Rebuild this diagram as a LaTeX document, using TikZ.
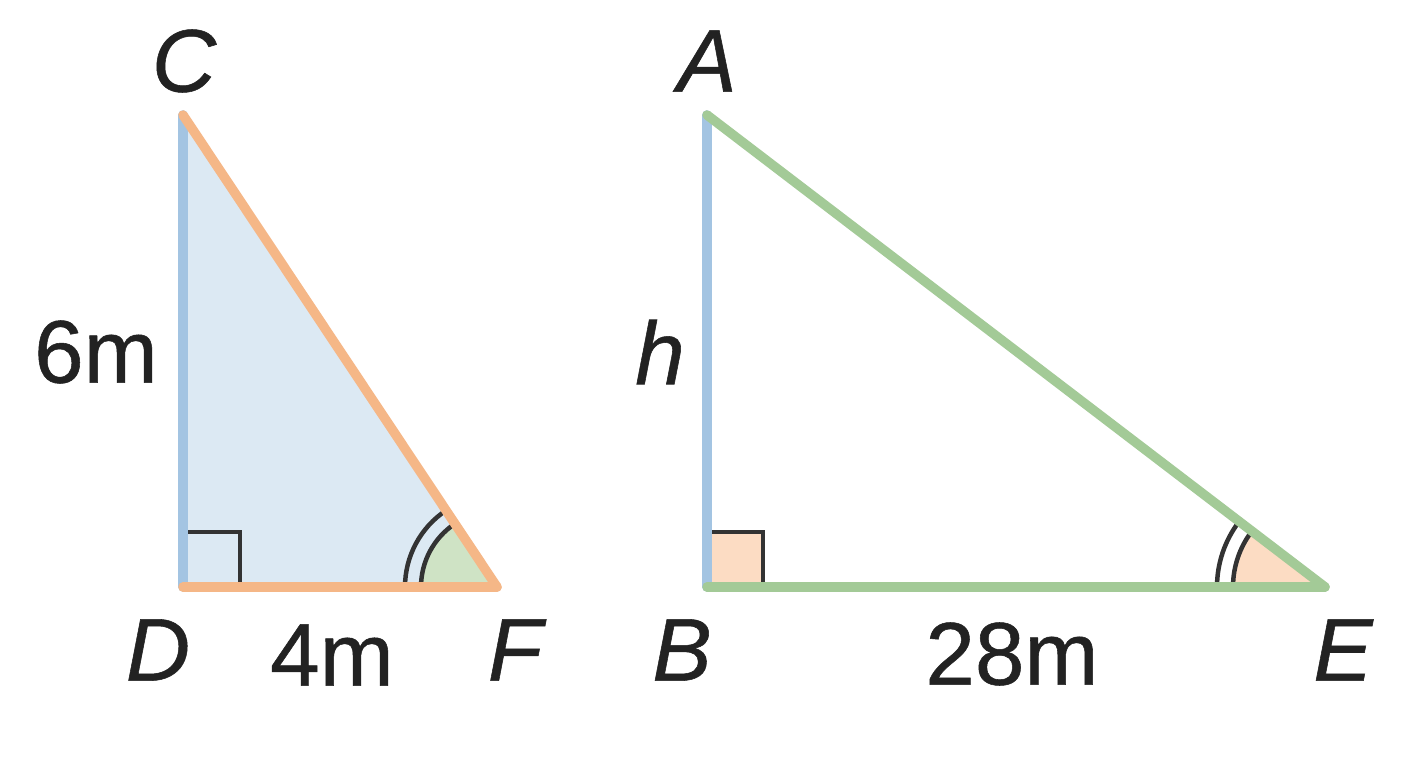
\documentclass[tikz,border=0pt]{standalone}
\usepackage{fontspec}
\setmainfont{Liberation Sans}[FakeBold=0.6]
\usetikzlibrary{calc}
\definecolor{lblue}{HTML}{A3C4E2}
\definecolor{fblue}{HTML}{DCE9F3}
\definecolor{lorange}{HTML}{F5B787}
\definecolor{lgreen}{HTML}{A3CA97}
\definecolor{fgreen}{HTML}{CFE3C5}
\definecolor{fpeach}{HTML}{FCDCC3}
\definecolor{dark}{HTML}{333333}
\definecolor{ink}{HTML}{222222}
\tikzset{
  side/.style={line width=9.5pt, line cap=round},
  anglemark/.style={draw=dark, line width=4.5pt},
  lab/.style={font=\fontsize{89}{91}\selectfont, text=ink},
}
\begin{document}
\begin{tikzpicture}[x=1pt,y=1pt]
\useasboundingbox (0,0) rectangle (1408,768);
\fill[white] (0,0) rectangle (1408,768);
% vertices
\coordinate (D) at (183,181);
\coordinate (C) at (183,653);
\coordinate (F) at (497,181);
\coordinate (B) at (707,181);
\coordinate (A) at (707,653);
\coordinate (E) at (1325,181);
% left triangle fill
\fill[fblue] (D) -- (C) -- (F) -- cycle;
% angle at F
\fill[fgreen] (F) -- ++(180:76) arc[start angle=180, end angle=123.6, radius=76] -- cycle;
\draw[anglemark] ($(F)+(180:76)$) arc[start angle=180, end angle=123.6, radius=76];
\draw[anglemark] ($(F)+(180:92)$) arc[start angle=180, end angle=123.6, radius=92];
% right angle at D
\draw[anglemark] (187,236) -- (240,236) -- (240,181);
% right triangle marks
\fill[fpeach] (E) -- ++(180:92) arc[start angle=180, end angle=142.6, radius=92] -- cycle;
\draw[anglemark] ($(E)+(180:92)$) arc[start angle=180, end angle=142.6, radius=92];
\draw[anglemark] ($(E)+(180:108)$) arc[start angle=180, end angle=142.6, radius=108];
\fill[fpeach] (711,181) rectangle (763,236);
\draw[anglemark] (711,236) -- (763,236) -- (763,181);
% sides
\draw[side, lblue] (D) -- (C);
\draw[side, lorange] (D) -- (F);
\draw[side, lorange] (C) -- (F);
\draw[side, lblue] (B) -- (A);
\draw[side, lgreen] (B) -- (E);
\draw[side, lgreen] (A) -- (E);
% labels
\node[lab] (lC) at (184,707) {\itshape C};
\node[lab] (lA) at (707,707) {\itshape A};
\node[lab] (l6) at (96,416) {6m};
\node[lab] (lh) at (660,416) {\itshape h};
\node[lab] (lD) at (158,118) {\itshape D};
\node[lab] (l4) at (332,113) {4m};
\node[lab] (lF) at (515,118) {\itshape F};
\node[lab] (lB) at (682,118) {\itshape B};
\node[lab] (l28) at (1012,114) {28m};
\node[lab] (lE) at (1343,118) {\itshape E};
\end{tikzpicture}
\end{document}
